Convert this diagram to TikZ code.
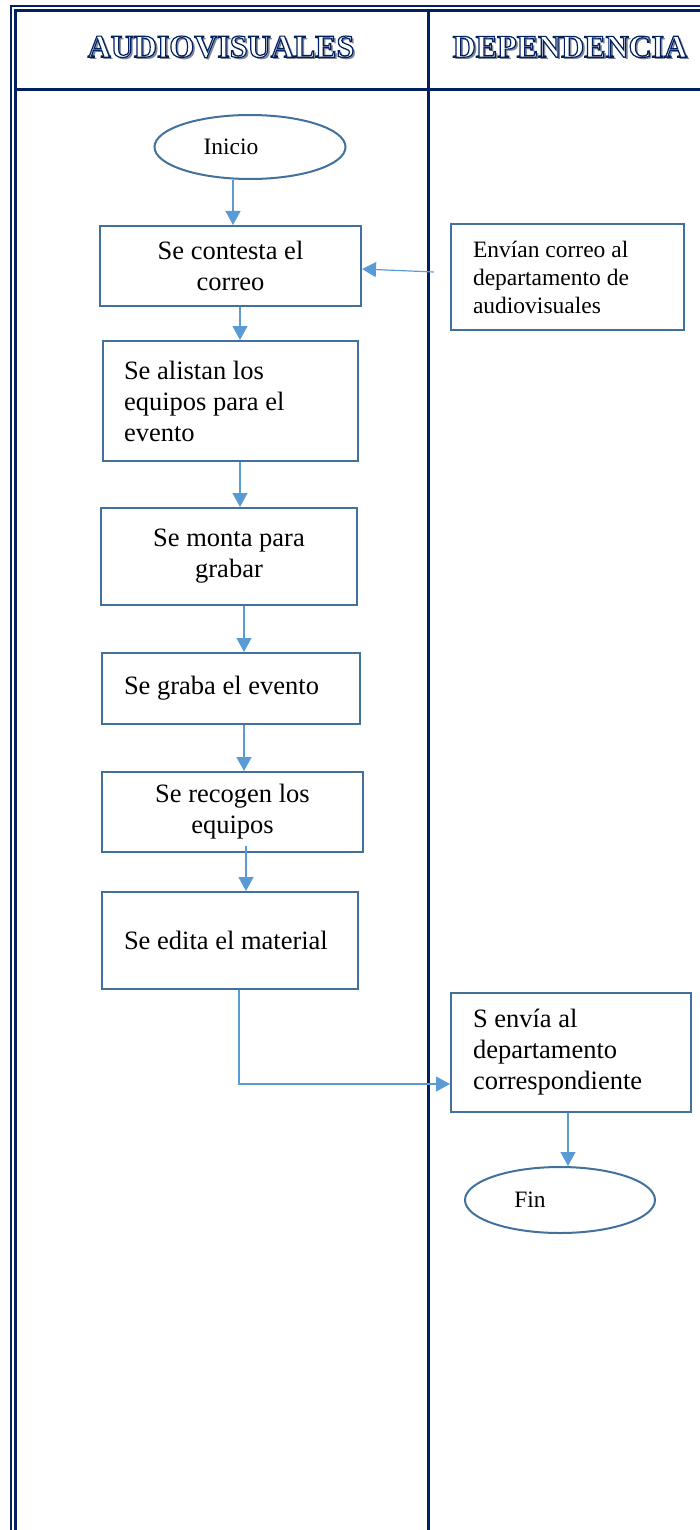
\documentclass[tikz,border=0pt]{standalone}
\usepackage{fontspec}
\setmainfont{Liberation Serif}
\usetikzlibrary{
    positioning,
    arrows.meta,
    shapes.geometric
}

\definecolor{azultabla}{RGB}{0,32,96}
\definecolor{bordecaja}{RGB}{65,113,156}
\definecolor{azulflecha}{RGB}{91,155,213}
\definecolor{sombra}{RGB}{128,134,150}

\newcommand{\textogrande}{\fontsize{26.5}{31}\selectfont}
\newcommand{\textochico}{\fontsize{23.5}{28}\selectfont}
\newcommand{\rotulo}[1]{%
    \rlap{\hspace{2.2pt}\raisebox{-2.2pt}{\textcolor{sombra}{#1}}}%
    {\color{white}\special{pdf:code 0 0.125 0.376 RG 1.2 w 2 Tr}#1\special{pdf:code 0 Tr}}}

\tikzset{
    proceso/.style={
        draw=bordecaja,
        line width=2pt,
        rectangle,
        inner sep=0pt,
        font=\textogrande
    },
    terminal/.style={
        draw=bordecaja,
        line width=2pt,
        ellipse,
        inner sep=0pt
    },
    flecha/.style={
        -{Triangle[width=15pt,length=14pt]},
        color=azulflecha,
        line width=1.2pt
    },
    linea/.style={
        draw=azultabla,
        line width=2.2pt
    },
    encabezado/.style={
        font=\fontsize{32}{36}\selectfont\bfseries
    }
}

\begin{document}
\begin{tikzpicture}[
    x=1pt,
    y=-1pt
]
    \useasboundingbox (0,0) rectangle (700,1530);

    % Tabla
    \draw[linea] (11,1530) -- (11,6) -- (700,6);
    \draw[linea] (15.5,1530) -- (15.5,10.5) -- (700,10.5);
    \draw[linea] (15.5,89.5) -- (700,89.5);
    \draw[linea] (428.5,10.5) -- (428.5,1530);

    % Encabezados
    \node[encabezado] (audio) at (221,48) {\rotulo{AUDIOVISUALES}};
    \node[encabezado] (depen) at (570,48) {\rotulo{DEPENDENCIA}};

    % Pasos
    \node[terminal, minimum width=191pt, minimum height=64pt,
        label={[font=\textochico, xshift=-19pt]center:Inicio}]
        (inicio) at (250,147) {};
    \node[proceso, minimum width=261pt, minimum height=80pt, align=center]
        (c1) at (230.5,266) {Se contesta el\\correo};
    \node[proceso, font=\textochico, minimum width=233pt, minimum height=106pt,
        text width=189pt, align=flush left]
        (env) at (567.5,277) {Envían correo al\\departamento de\\audiovisuales};
    \node[proceso, minimum width=255pt, minimum height=120pt,
        text width=213pt, align=flush left]
        (c2) at (230.5,401) {Se alistan los\\equipos para el\\evento};
    \node[proceso, minimum width=256pt, minimum height=97pt, align=center]
        (c3) at (229,556.5) {Se monta para\\grabar};
    \node[proceso, minimum width=258pt, minimum height=71pt,
        text width=214pt, align=flush left]
        (c4) at (231,688.5) {Se graba el evento};
    \node[proceso, minimum width=261pt, minimum height=80pt, align=center]
        (c5) at (232.5,812) {Se recogen los\\equipos};
    \node[proceso, minimum width=256pt, minimum height=97pt,
        text width=212pt, align=flush left]
        (c6) at (230,940.5) {Se edita el material};
    \node[proceso, minimum width=240pt, minimum height=119pt,
        text width=196pt, align=flush left]
        (c7) at (571,1052.5) {S envía al\\departamento\\correspondiente};
    \node[terminal, minimum width=190pt, minimum height=66pt,
        label={[font=\textochico, xshift=-30pt]center:Fin}]
        (fin) at (560,1200) {};

    % Conexiones
    \path[flecha]

        ([xshift=-17pt]inicio.south)
            edge ([xshift=2.5pt]c1.north)

        ([xshift=-16pt, yshift=5pt]env.west)
            edge ([yshift=-3pt]c1.east)

        ([xshift=9.5pt]c1.south)
            edge ([xshift=9.5pt]c2.north)

        ([xshift=9.5pt]c2.south)
            edge ([xshift=11pt]c3.north)

        ([xshift=15pt]c3.south)
            edge ([xshift=13pt]c4.north)

        ([xshift=13pt]c4.south)
            edge ([xshift=11.5pt]c5.north)

        ([xshift=13.5pt, yshift=7pt]c5.south)
            edge ([xshift=16pt]c6.north)

        ([xshift=9pt]c6.south)
            edge[to path={|- (\tikztotarget)}] ([yshift=-31.5pt]c7.west)

        ([xshift=-3pt]c7.south)
            edge ([xshift=8pt]fin.north);

\end{tikzpicture}
\end{document}
